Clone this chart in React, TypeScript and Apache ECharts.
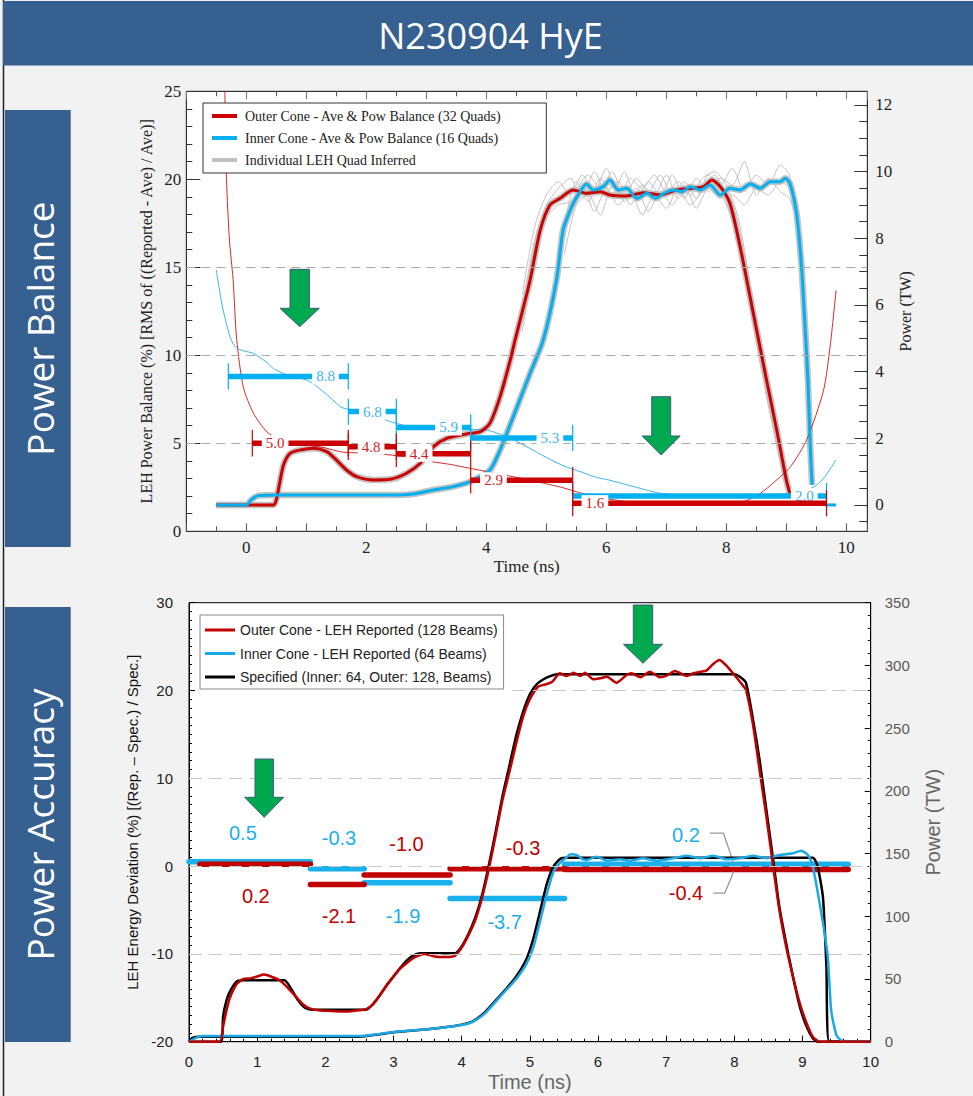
import React, { useEffect, useRef } from 'react';
import * as echarts from 'echarts';

const SERIF = '"Liberation Serif", "DejaVu Serif", serif';
const SANS = '"Liberation Sans", Arial, sans-serif';
const DECO = '"Open Sans", "Noto Sans", sans-serif';

// ---------- Top panel (Power Balance) ----------
// power (TW), right axis
const topOuterPower = [
  [-0.5, 0], [0.45, 0], [0.5, 0.15], [0.55, 0.6], [0.62, 1.2], [0.73, 1.55], [0.9, 1.65], [1.12, 1.7], [1.34, 1.6],
  [1.5, 1.35], [1.67, 1.05], [1.84, 0.85], [2.12, 0.75], [2.4, 0.77], [2.67, 0.95], [2.9, 1.25], [3.12, 1.75],
  [3.34, 2.0], [3.67, 2.13], [3.9, 2.2], [4.06, 2.45], [4.23, 3.25], [4.4, 4.35], [4.48, 4.95], [4.6, 5.8],
  [4.73, 6.75], [4.9, 8.25], [5.06, 9.0], [5.23, 9.2], [5.45, 9.45], [5.67, 9.35], [5.9, 9.4], [6.06, 9.3],
  [6.34, 9.27], [6.62, 9.37], [6.9, 9.3], [7.17, 9.45], [7.45, 9.5], [7.62, 9.55], [7.76, 9.75], [7.9, 9.55],
  [8.06, 9.05], [8.23, 7.75], [8.45, 5.75], [8.67, 3.75], [8.84, 2.25], [9.0, 0.75], [9.06, 0.35],
];
const topInnerPower = [
  [-0.5, 0], [0.0, 0], [0.08, 0.15], [0.2, 0.28], [0.6, 0.3], [1.5, 0.3], [2.5, 0.3], [2.78, 0.33], [3.12, 0.45],
  [3.45, 0.55], [3.73, 0.7], [4.06, 1.05], [4.23, 1.65], [4.45, 2.65], [4.73, 3.95], [4.95, 4.95], [5.17, 6.75],
  [5.28, 8.25], [5.4, 8.85], [5.45, 9.05], [5.53, 9.3], [5.67, 9.63], [5.78, 9.45], [5.95, 9.55], [6.06, 9.75],
  [6.2, 9.45], [6.34, 9.5], [6.51, 9.2], [6.68, 9.35], [6.82, 9.2], [6.96, 9.35], [7.12, 9.45], [7.26, 9.4],
  [7.4, 9.55], [7.57, 9.45], [7.73, 9.6], [7.9, 9.3], [8.06, 9.5], [8.23, 9.45], [8.4, 9.63], [8.57, 9.5],
  [8.73, 9.7], [8.9, 9.7], [8.98, 9.8], [9.06, 9.65], [9.17, 8.75], [9.25, 7.25], [9.3, 5.75], [9.36, 3.75],
  [9.4, 1.75], [9.43, 0.6],
];
const topInnerTail = [[9.67, 0], [9.83, 0]];
// individual quads (TW)
const quadOuterA = [
  [4.6, 5.9], [4.8, 7.9], [5.0, 9.0], [5.2, 9.5], [5.4, 9.8], [5.6, 9.2], [5.8, 10.0], [6.0, 9.4], [6.2, 9.7], [6.4, 9.0],
  [6.6, 9.6], [6.8, 9.3], [7.0, 9.9], [7.2, 9.2], [7.4, 9.6], [7.6, 9.5], [7.8, 9.9], [8.0, 9.3], [8.2, 8.3], [8.4, 6.3],
  [8.6, 4.3], [8.8, 2.5], [9.0, 0.8],
];
const quadOuterB = [
  [4.6, 5.2], [4.8, 7.2], [5.0, 8.6], [5.2, 9.0], [5.4, 9.1], [5.6, 9.6], [5.8, 8.8], [6.0, 9.5], [6.2, 9.0], [6.4, 9.4],
  [6.6, 8.7], [6.8, 9.3], [7.0, 8.9], [7.2, 9.5], [7.4, 9.0], [7.6, 9.4], [7.8, 9.6], [8.0, 9.0], [8.2, 7.9], [8.4, 5.9],
  [8.6, 3.9], [8.8, 2.1], [9.0, 0.5],
];
const quadOuterC = [
  [4.6, 6.3], [4.8, 8.3], [5.0, 9.3], [5.2, 9.7], [5.4, 9.3], [5.6, 9.9], [5.8, 9.4], [6.0, 10.1], [6.2, 9.2], [6.4, 9.8],
  [6.6, 9.5], [6.8, 9.9], [7.0, 9.4], [7.2, 9.7], [7.4, 9.3], [7.6, 9.8], [7.8, 10.0], [8.0, 9.6], [8.2, 8.6], [8.4, 6.6],
  [8.6, 4.5], [8.8, 2.7], [9.0, 0.9],
];
const quadInnerA = [
  [5.3, 8.0], [5.5, 9.4], [5.7, 9.9], [5.9, 9.5], [6.1, 10.0], [6.3, 9.2], [6.5, 9.8], [6.7, 9.4], [6.9, 9.9], [7.1, 9.3],
  [7.3, 9.7], [7.5, 9.2], [7.7, 9.9], [7.9, 9.6], [8.1, 10.1], [8.3, 9.4], [8.5, 9.9], [8.7, 9.6], [8.9, 10.2], [9.05, 9.9],
  [9.2, 8.6], [9.3, 5.8], [9.4, 1.5],
];
const quadInnerB = [
  [5.3, 7.5], [5.5, 9.0], [5.7, 9.3], [5.9, 8.7], [6.1, 9.6], [6.3, 9.1], [6.5, 9.5], [6.7, 8.8], [6.9, 9.4], [7.1, 9.0],
  [7.3, 9.6], [7.5, 8.9], [7.7, 9.5], [7.9, 9.2], [8.1, 9.3], [8.3, 9.0], [8.5, 9.5], [8.7, 9.3], [8.9, 9.7], [9.05, 9.5],
  [9.2, 8.9], [9.3, 6.2], [9.4, 1.9],
];
const quadInnerC = [
  [5.3, 8.4], [5.5, 9.7], [5.7, 9.1], [5.9, 9.8], [6.1, 9.3], [6.3, 10.0], [6.5, 9.2], [6.7, 9.7], [6.9, 9.3], [7.1, 9.9],
  [7.3, 9.2], [7.5, 9.8], [7.7, 9.4], [7.9, 9.8], [8.1, 9.6], [8.3, 10.3], [8.5, 9.3], [8.7, 9.8], [8.9, 9.4], [9.05, 9.2],
  [9.2, 8.3], [9.3, 5.3], [9.4, 1.2],
];
// power balance (%), left axis
const outerBalance = [
  [-0.36, 25.5], [-0.33, 20], [-0.28, 16.5], [-0.22, 14.3], [-0.16, 10.9], [-0.05, 8.2], [0.12, 6.7], [0.34, 5.66],
  [0.55, 5.2], [0.8, 5.0], [1.0, 4.9], [1.3, 4.75], [1.6, 4.5], [1.9, 4.45], [2.2, 4.4], [2.5, 4.3], [2.8, 4.15],
  [3.1, 3.95], [3.4, 3.8], [3.7, 3.6], [4.0, 3.4], [4.3, 3.2], [4.6, 3.0], [5.0, 2.7], [5.25, 2.5], [5.5, 2.25],
  [5.8, 1.97], [6.3, 1.7], [6.8, 1.52], [7.5, 1.5], [8.0, 1.55], [8.3, 1.7], [8.57, 2.16], [8.8, 2.8], [9.07, 3.67],
  [9.34, 5.2], [9.62, 8.0], [9.73, 10.5], [9.83, 13.7],
];
const innerBalance = [
  [-0.5, 14.85], [-0.4, 12.8], [-0.27, 11.05], [-0.16, 10.4], [0.12, 10.1], [0.34, 9.6], [0.45, 9.25], [0.67, 8.9],
  [1.0, 8.6], [1.15, 8.3], [1.4, 7.6], [1.56, 7.1], [1.67, 6.95], [2.0, 6.85], [2.34, 6.3], [2.78, 5.9], [3.2, 5.8],
  [3.56, 5.8], [4.0, 5.75], [4.45, 5.2], [5.0, 4.2], [5.3, 3.7], [5.56, 3.4], [5.8, 3.1], [6.06, 2.9], [6.5, 2.5],
  [6.9, 2.16], [7.45, 2.0], [8.0, 1.95], [8.5, 1.95], [9.12, 2.2], [9.45, 2.5], [9.62, 3.0], [9.83, 4.05],
];
// balance bars: [start ns, end ns, value %, label position ns]
const topInnerBars = [
  [-0.3, 1.7, 8.8, 1.32], [1.7, 2.5, 6.8, 2.1], [2.5, 3.74, 5.9, 3.37], [3.74, 5.44, 5.3, 5.06], [5.44, 9.67, 2.0, 9.3],
];
const topOuterBars = [
  [0.1, 1.7, 5.0, 0.48], [1.7, 2.5, 4.8, 2.08], [2.5, 3.74, 4.4, 2.88], [3.74, 5.44, 2.9, 4.12], [5.44, 9.67, 1.6, 5.81],
];
const topGuides = [5, 10, 15];

// ---------- Bottom panel (Power Accuracy) ----------
const outerReported = [
  [0, 0], [0.45, 0], [0.5, 12], [0.55, 25], [0.6, 35], [0.7, 46], [0.8, 50], [0.9, 50.5], [1.0, 52], [1.1, 53.5],
  [1.2, 52], [1.33, 49], [1.45, 43], [1.55, 37], [1.65, 31], [1.75, 27], [1.9, 25], [2.1, 24.5], [2.3, 24], [2.5, 25],
  [2.6, 26], [2.7, 30], [2.8, 37], [2.9, 45], [3.0, 52], [3.1, 58.5], [3.2, 63], [3.3, 67], [3.45, 70], [3.6, 68],
  [3.75, 67.5], [3.9, 68.5], [4.0, 75], [4.1, 85], [4.2, 97], [4.3, 115], [4.4, 138], [4.5, 165], [4.6, 193],
  [4.7, 215], [4.8, 238], [4.9, 259], [5.0, 273], [5.12, 283], [5.24, 285], [5.33, 287], [5.44, 293.7], [5.54, 291.6],
  [5.64, 294.2], [5.74, 291.6], [5.81, 294.2], [5.93, 288.9], [6.03, 289.7], [6.13, 291], [6.27, 286.2], [6.42, 292.4],
  [6.49, 293.7], [6.62, 290.5], [6.76, 295], [6.91, 290.5], [7.0, 291.6], [7.13, 295.5], [7.3, 291.6], [7.4, 293.7],
  [7.5, 295], [7.59, 295.8], [7.69, 301.1], [7.78, 304.3], [7.89, 299.5], [7.98, 293.7], [8.1, 285.7], [8.17, 280.4],
  [8.27, 253.8], [8.37, 216.6], [8.47, 179.4], [8.57, 139.5], [8.66, 105], [8.76, 75.7], [8.86, 51.8], [8.96, 30.6],
  [9.06, 14.7], [9.15, 4], [9.25, 0], [10, 0],
];
const outerSpecified = [
  [0, 0], [0.47, 0], [0.5, 20], [0.55, 33], [0.6, 40], [0.7, 48], [0.8, 49], [1.4, 49], [1.5, 42], [1.6, 33], [1.7, 27],
  [1.8, 25.5], [2.6, 25.5], [2.7, 30], [2.8, 37], [2.9, 45], [3.0, 52], [3.1, 59], [3.2, 65], [3.3, 69], [3.4, 70.5],
  [3.9, 70.5], [4.0, 76], [4.1, 86], [4.2, 99], [4.3, 117], [4.4, 141], [4.5, 168], [4.6, 196], [4.7, 220], [4.8, 244],
  [4.9, 263], [5.0, 277], [5.1, 285], [5.2, 289], [5.3, 291.5], [5.4, 293], [8.0, 293], [8.08, 291], [8.17, 286.3],
  [8.27, 258], [8.37, 224.6], [8.47, 184.6], [8.57, 144.7], [8.66, 107.6], [8.76, 78.4], [8.86, 51.8], [8.96, 27.9],
  [9.06, 12], [9.15, 2.7], [9.22, 0], [10, 0],
];
const innerSpecified = [
  [0, 0], [0.05, 3], [0.15, 4], [2.5, 4], [2.8, 6], [3.0, 7.5], [3.5, 10], [3.9, 12.5], [4.1, 15], [4.2, 17.5],
  [4.35, 24], [4.5, 33], [4.65, 42], [4.8, 52], [4.95, 66], [5.05, 82], [5.15, 104], [5.25, 126], [5.35, 140],
  [5.45, 146], [5.55, 146.7], [9.15, 146.7], [9.22, 140], [9.3, 115], [9.35, 60], [9.39, 0], [10, 0],
];
const innerReported = [
  [0, 0], [0.1, 3], [0.2, 4.5], [1.0, 4.5], [2.0, 4.5], [2.5, 4.5], [2.8, 6.2], [3.0, 7.8], [3.5, 10], [3.9, 12.5],
  [4.1, 14.5], [4.2, 17], [4.35, 23], [4.5, 32], [4.65, 41], [4.8, 50], [4.95, 62], [5.05, 75], [5.15, 96], [5.25, 118],
  [5.35, 136], [5.45, 143], [5.52, 146], [5.6, 149.5], [5.69, 148.8], [5.76, 146], [5.83, 144.9], [5.98, 147.5],
  [6.13, 144.3], [6.32, 145.4], [6.47, 144.3], [6.66, 146.2], [6.86, 144.3], [7.1, 146.2], [7.3, 148.3], [7.5, 146.2],
  [7.69, 148.3], [7.89, 145.4], [8.08, 146.2], [8.27, 148.3], [8.47, 146.2], [8.66, 148.8], [8.86, 150.2],
  [8.98, 152.3], [9.08, 148.8], [9.15, 139.5], [9.22, 120], [9.3, 94.6], [9.37, 68], [9.42, 25], [9.5, 5], [9.6, 0],
  [10, 0],
];
// deviation bars: [start ns, end ns, value %, label ns, label %]
const innerDeviation = [
  [0, 1.78, 0.5, 0.79, 3.8], [1.78, 2.57, -0.3, 2.2, 3.2], [2.57, 3.83, -1.9, 3.14, -5.65],
  [3.83, 5.51, -3.7, 4.63, -6.4], [5.51, 9.67, 0.2, 7.29, 3.55],
];
const outerDeviation = [
  [0.16, 1.78, 0.2, 0.98, -3.45], [1.78, 2.57, -2.1, 2.2, -5.7], [2.57, 3.83, -1.0, 3.19, 2.5],
  [3.83, 5.51, -0.3, 4.9, 2.05], [5.51, 9.67, -0.4, 7.29, -3.07],
];
const innerLeader = [[7.64, 3.75], [7.84, 3.75], [7.99, 0.34]];
const outerLeader = [[7.69, -3.07], [7.86, -3.07], [7.99, -0.61]];
const bottomGuides = [10, 0, -10];

// names
const N_OUT_TOP = 'Outer Cone - Ave & Pow Balance (32 Quads)';
const N_IN_TOP = 'Inner Cone - Ave & Pow Balance (16 Quads)';
const N_QUAD = 'Individual LEH Quad Inferred';
const N_OUT_BOT = 'Outer Cone - LEH Reported (128 Beams)';
const N_IN_BOT = 'Inner Cone - LEH Reported (64 Beams)';
const N_SPEC = 'Specified (Inner: 64, Outer: 128, Beams)';

const RED = '#cc0000';
const BLUE = '#00b0f0';
const GRAY = '#c2c2c2';

function topBarRenderer(color: string, labelColor: string) {
  return (params: any, api: any) => {
    const s = api.value(0), e = api.value(1), v = api.value(2), lt = api.value(3);
    const a = api.coord([s, v]);
    const b = api.coord([e, v]);
    const l = api.coord([lt, v]);
    const up = api.coord([s, v + 0.75])[1];
    const dn = api.coord([s, v - 0.75])[1];
    return {
      type: 'group',
      children: [
        { type: 'line', shape: { x1: a[0], y1: a[1], x2: b[0], y2: b[1] }, style: { stroke: color, lineWidth: 5.5 } },
        { type: 'line', shape: { x1: a[0], y1: up, x2: a[0], y2: dn }, style: { stroke: color, lineWidth: 1.2 } },
        { type: 'line', shape: { x1: b[0], y1: up, x2: b[0], y2: dn }, style: { stroke: color, lineWidth: 1.2 } },
        {
          type: 'text', x: l[0], y: l[1],
          style: {
            text: Number(v).toFixed(1), fill: labelColor, font: `15px ${SERIF}`, align: 'center',
            verticalAlign: 'middle', backgroundColor: '#fff', padding: [1, 4, 0, 4],
          },
        },
      ],
    };
  };
}

function bottomBarRenderer(color: string) {
  return (params: any, api: any) => {
    const s = api.value(0), e = api.value(1), v = api.value(2), lt = api.value(3), ly = api.value(4);
    const a = api.coord([s, v]);
    const b = api.coord([e, v]);
    const l = api.coord([lt, ly]);
    return {
      type: 'group',
      children: [
        {
          type: 'line', shape: { x1: a[0], y1: a[1], x2: b[0], y2: b[1] },
          style: { stroke: color, lineWidth: 5.5, lineCap: 'round' },
        },
        {
          type: 'text', x: l[0], y: l[1],
          style: { text: Number(v).toFixed(1), fill: color, font: `20px ${SANS}`, align: 'center', verticalAlign: 'middle' },
        },
      ],
    };
  };
}

function arrow(cx: number, top: number, shaftHalf: number, headHalf: number, headY: number, tipY: number) {
  return {
    type: 'polygon',
    z: 100,
    silent: true,
    shape: {
      points: [
        [cx - shaftHalf, top], [cx + shaftHalf, top], [cx + shaftHalf, headY], [cx + headHalf, headY],
        [cx, tipY], [cx - headHalf, headY], [cx - shaftHalf, headY],
      ],
    },
    style: { fill: '#00a94f', stroke: '#3f5b7c', lineWidth: 1 },
  };
}

const line = (name: string, data: number[][], xi: number, yi: number, color: string, width: number, extra: any = {}) => ({
  type: 'line', name, data, xAxisIndex: xi, yAxisIndex: yi, showSymbol: false, symbol: 'none',
  smooth: 0.25, lineStyle: { color, width }, itemStyle: { color }, silent: true, ...extra,
});

export default function App() {
  const ref = useRef<HTMLDivElement>(null);

  useEffect(() => {
    if (!ref.current) return;
    const chart = echarts.init(ref.current, undefined, { renderer: 'svg' });

    const rightFmt = (v: number) => {
      const r = Math.round(v);
      return Math.abs(v - r) < 1e-6 && r % 2 === 0 ? String(r) : '';
    };
    const evenFmt = (v: number) => {
      const r = Math.round(v);
      return Math.abs(v - r) < 1e-6 && r % 2 === 0 && r >= 0 && r <= 10 ? String(r) : '';
    };
    const topLine = { show: true, onZero: false, lineStyle: { color: '#333' } };
    const botLine = { show: true, onZero: false, lineStyle: { color: '#000' } };

    const option: any = {
      animation: false,
      backgroundColor: '#f2f2f2',
      grid: [
        { left: 186.3, top: 91.3, width: 681, height: 440, show: true, backgroundColor: '#fff', borderColor: '#333', borderWidth: 1, outerBoundsMode: 'none' },
        { left: 189, top: 602.7, width: 681.7, height: 439, show: true, backgroundColor: '#fff', borderColor: '#000', borderWidth: 1, outerBoundsMode: 'none' },
      ],
      legend: [
        {
          data: [N_OUT_TOP, N_IN_TOP, N_QUAD], orient: 'vertical', left: 203, top: 103,
          padding: [6, 45, 6, 9], itemGap: 8, itemWidth: 25, itemHeight: 4, icon: 'rect',
          backgroundColor: '#fff', borderColor: '#333', borderWidth: 1, borderRadius: 0, selectedMode: false,
          textStyle: { fontFamily: SERIF, fontSize: 14, lineHeight: 14, color: '#222', padding: [0, 0, 0, 3] },
        },
        {
          data: [N_OUT_BOT, N_IN_BOT, N_SPEC], orient: 'vertical', left: 200, top: 615,
          padding: [8, 6, 5, 5], itemGap: 9.5, itemWidth: 30, itemHeight: 3, icon: 'rect',
          backgroundColor: '#fff', borderColor: '#888', borderWidth: 1, borderRadius: 0, selectedMode: false,
          textStyle: { fontFamily: SANS, fontSize: 14, lineHeight: 14, color: '#222' },
        },
      ],
      xAxis: [
        {
          gridIndex: 0, type: 'value', min: -1, max: 10.35, interval: 1, position: 'bottom',
          axisLine: topLine, splitLine: { show: false },
          axisTick: { inside: true, length: 8, lineStyle: { color: '#555' } },
          minorTick: { show: true, splitNumber: 2, length: 5, lineStyle: { color: '#555' } },
          axisLabel: { formatter: evenFmt, fontFamily: SERIF, fontSize: 17, color: '#222', margin: 8 },
          name: 'Time (ns)', nameLocation: 'middle', nameGap: 27, nameMoveOverlap: false,
          nameTextStyle: { fontFamily: SERIF, fontSize: 17, color: '#222' },
        },
        {
          gridIndex: 0, type: 'value', min: -1, max: 10.35, interval: 1, position: 'top',
          axisLine: topLine, splitLine: { show: false },
          axisTick: { inside: true, length: 8, lineStyle: { color: '#777' } },
          minorTick: { show: true, splitNumber: 2, length: 5, lineStyle: { color: '#555' } },
          axisLabel: { show: false },
        },
        {
          gridIndex: 1, type: 'value', min: 0, max: 10, interval: 1, position: 'bottom',
          axisLine: botLine, splitLine: { show: false },
          axisTick: { inside: true, length: 6, lineStyle: { color: '#000' } },
          minorTick: { show: true, splitNumber: 5, length: 3, lineStyle: { color: '#000' } },
          axisLabel: { fontFamily: SANS, fontSize: 15, color: '#222', margin: 12 },
          name: 'Time (ns)', nameLocation: 'middle', nameGap: 30, nameMoveOverlap: false,
          nameTextStyle: { fontFamily: SANS, fontSize: 20, color: '#666' },
        },
      ],
      yAxis: [
        {
          gridIndex: 0, type: 'value', min: 0, max: 25, interval: 5, position: 'left',
          axisLine: topLine, splitLine: { show: false },
          axisTick: { inside: true, length: 14, lineStyle: { color: '#333' } },
          minorTick: { show: true, splitNumber: 5, length: 6, lineStyle: { color: '#333' } },
          axisLabel: { fontFamily: SERIF, fontSize: 17, color: '#222', margin: 5 },
          name: 'LEH Power Balance (%) [RMS of ((Reported - Ave) / Ave)]', nameLocation: 'middle', nameGap: 32,
          nameRotate: 90, nameMoveOverlap: false, nameTextStyle: { fontFamily: SERIF, fontSize: 16, color: '#222' },
        },
        {
          gridIndex: 0, type: 'value', min: -0.79, max: 12.41, minInterval: 2, maxInterval: 2, splitNumber: 6,
          position: 'right', axisLine: topLine, splitLine: { show: false },
          axisTick: { inside: true, length: 13, lineStyle: { color: '#333' } },
          minorTick: { show: true, splitNumber: 4, length: 8, lineStyle: { color: '#333' } },
          axisLabel: { formatter: rightFmt, showMinLabel: false, showMaxLabel: false, fontFamily: SERIF, fontSize: 17, color: '#222', margin: 8 },
          name: 'Power (TW)', nameLocation: 'middle', nameGap: 30, nameRotate: 90, nameMoveOverlap: false,
          nameTextStyle: { fontFamily: SERIF, fontSize: 16, color: '#222' },
        },
        {
          gridIndex: 1, type: 'value', min: -20, max: 30, interval: 10, position: 'left',
          axisLine: botLine, splitLine: { show: false },
          axisTick: { inside: true, length: 6, lineStyle: { color: '#000' } },
          minorTick: { show: true, splitNumber: 10, length: 3, lineStyle: { color: '#000' } },
          axisLabel: { fontFamily: SANS, fontSize: 15, color: '#222', margin: 16 },
          name: 'LEH Energy Deviation (%) [(Rep. \u2013 Spec.) / Spec.]', nameLocation: 'middle', nameGap: 49,
          nameRotate: 90, nameMoveOverlap: false, nameTextStyle: { fontFamily: SANS, fontSize: 15, color: '#111' },
        },
        {
          gridIndex: 1, type: 'value', min: 0, max: 350, interval: 50, position: 'right',
          axisLine: botLine, splitLine: { show: false },
          axisTick: { inside: true, length: 6, lineStyle: { color: '#000' } },
          minorTick: { show: true, splitNumber: 5, length: 3, lineStyle: { color: '#000' } },
          axisLabel: { fontFamily: SANS, fontSize: 15, color: '#595959', margin: 14 },
          name: 'Power (TW)', nameLocation: 'middle', nameGap: 52, nameRotate: 90, nameMoveOverlap: false,
          nameTextStyle: { fontFamily: SANS, fontSize: 20, color: '#666' },
        },
      ],
      series: [
        // ---- top panel ----
        {
          type: 'line', name: 'guides-top', xAxisIndex: 0, yAxisIndex: 0, data: [], silent: true,
          markLine: {
            silent: true, symbol: ['none', 'none'], label: { show: false },
            lineStyle: { color: '#aaa', type: [9, 6], width: 1 },
            data: topGuides.map((g) => ({ yAxis: g })),
          },
        },
        line(N_QUAD, topOuterPower, 0, 1, GRAY, 6.5),
        line(N_QUAD, topInnerPower, 0, 1, GRAY, 6.5),
        line(N_QUAD, quadOuterA, 0, 1, GRAY, 1),
        line(N_QUAD, quadOuterB, 0, 1, GRAY, 1),
        line(N_QUAD, quadOuterC, 0, 1, GRAY, 1),
        line(N_QUAD, quadInnerA, 0, 1, GRAY, 1),
        line(N_QUAD, quadInnerB, 0, 1, GRAY, 1),
        line(N_QUAD, quadInnerC, 0, 1, GRAY, 1),
        line('outer-balance', outerBalance, 0, 0, '#d42a2a', 1),
        line('inner-balance', innerBalance, 0, 0, '#3ab4ec', 1),
        line(N_OUT_TOP, topOuterPower, 0, 1, RED, 3),
        line(N_IN_TOP, topInnerPower, 0, 1, BLUE, 3),
        line('inner-tail', topInnerTail, 0, 1, BLUE, 3, { smooth: false }),
        {
          type: 'custom', name: 'inner-bars', xAxisIndex: 0, yAxisIndex: 0, z: 5, silent: true,
          dimensions: ['s', 'e', 'v', 'l'], encode: { x: [0, 1], y: 2 },
          data: topInnerBars, renderItem: topBarRenderer(BLUE, '#38b6ee'),
        },
        {
          type: 'custom', name: 'outer-bars', xAxisIndex: 0, yAxisIndex: 0, z: 5, silent: true,
          dimensions: ['s', 'e', 'v', 'l'], encode: { x: [0, 1], y: 2 },
          data: topOuterBars, renderItem: topBarRenderer(RED, '#d42020'),
        },
        // ---- bottom panel ----
        {
          type: 'line', name: 'guides-bottom', xAxisIndex: 2, yAxisIndex: 2, data: [], silent: true,
          markLine: {
            silent: true, symbol: ['none', 'none'], label: { show: false },
            lineStyle: { color: '#c8c8c8', type: [13, 7], width: 1.2 },
            data: [
              ...bottomGuides.map((g) => ({ yAxis: g })),
              [{ coord: [4.75, 20] }, { coord: [10, 20] }],
            ],
          },
        },
        {
          type: 'custom', name: 'inner-dev', xAxisIndex: 2, yAxisIndex: 2, z: 1, silent: true,
          dimensions: ['s', 'e', 'v', 'lx', 'ly'], encode: { x: [0, 1], y: 2 },
          data: innerDeviation, renderItem: bottomBarRenderer('#1ab0ec'),
        },
        {
          type: 'custom', name: 'outer-dev', xAxisIndex: 2, yAxisIndex: 2, z: 1, silent: true,
          dimensions: ['s', 'e', 'v', 'lx', 'ly'], encode: { x: [0, 1], y: 2 },
          data: outerDeviation, renderItem: bottomBarRenderer('#c00000'),
        },
        line('leader-inner', innerLeader, 2, 2, '#999', 1.3, { smooth: false }),
        line('leader-outer', outerLeader, 2, 2, '#999', 1.3, { smooth: false }),
        line(N_SPEC, outerSpecified, 2, 3, '#000', 2.5, { smooth: 0.2 }),
        line(N_SPEC, innerSpecified, 2, 3, '#000', 2.5, { smooth: 0.2 }),
        line(N_IN_BOT, innerReported, 2, 3, '#1aa9e6', 2.5, { smooth: 0.2 }),
        line(N_OUT_BOT, outerReported, 2, 3, '#c00000', 2.5, { smooth: 0.2 }),
      ],
      graphic: [
        { type: 'line', silent: true, shape: { x1: 3.5, y1: 0, x2: 3.5, y2: 1096 }, style: { stroke: '#222', lineWidth: 1.5 } },
        { type: 'rect', silent: true, shape: { x: 3, y: 1, width: 970, height: 64.5 }, style: { fill: '#36608f' } },
        {
          type: 'text', silent: true, x: 490.5, y: 35,
          style: { text: 'N230904 HyE', fill: '#fff', font: `36px ${DECO}`, align: 'center', verticalAlign: 'middle' },
        },
        { type: 'rect', silent: true, shape: { x: 5, y: 110, width: 65.7, height: 437 }, style: { fill: '#36608f' } },
        { type: 'rect', silent: true, shape: { x: 5, y: 607, width: 65.7, height: 435 }, style: { fill: '#36608f' } },
        {
          type: 'text', silent: true, x: 39, y: 328.5, rotation: Math.PI / 2,
          style: { text: 'Power Balance', fill: '#fff', font: `37px ${DECO}`, align: 'center', verticalAlign: 'middle' },
        },
        {
          type: 'text', silent: true, x: 39, y: 824.5, rotation: Math.PI / 2,
          style: { text: 'Power Accuracy', fill: '#fff', font: `37px ${DECO}`, align: 'center', verticalAlign: 'middle' },
        },
        arrow(299.7, 269.3, 9.7, 19.7, 308.3, 326.7),
        arrow(661.2, 396.7, 9.5, 19, 436, 455),
        arrow(264.2, 759, 9.2, 19.5, 797.3, 817.3),
        arrow(643, 605, 9.7, 19.5, 644.3, 663.3),
      ],
    };

    chart.setOption(option);
    return () => chart.dispose();
  }, []);

  return <div ref={ref} style={{ position: 'absolute', left: 0, top: 0, width: 973, height: 1096 }} />;
}
